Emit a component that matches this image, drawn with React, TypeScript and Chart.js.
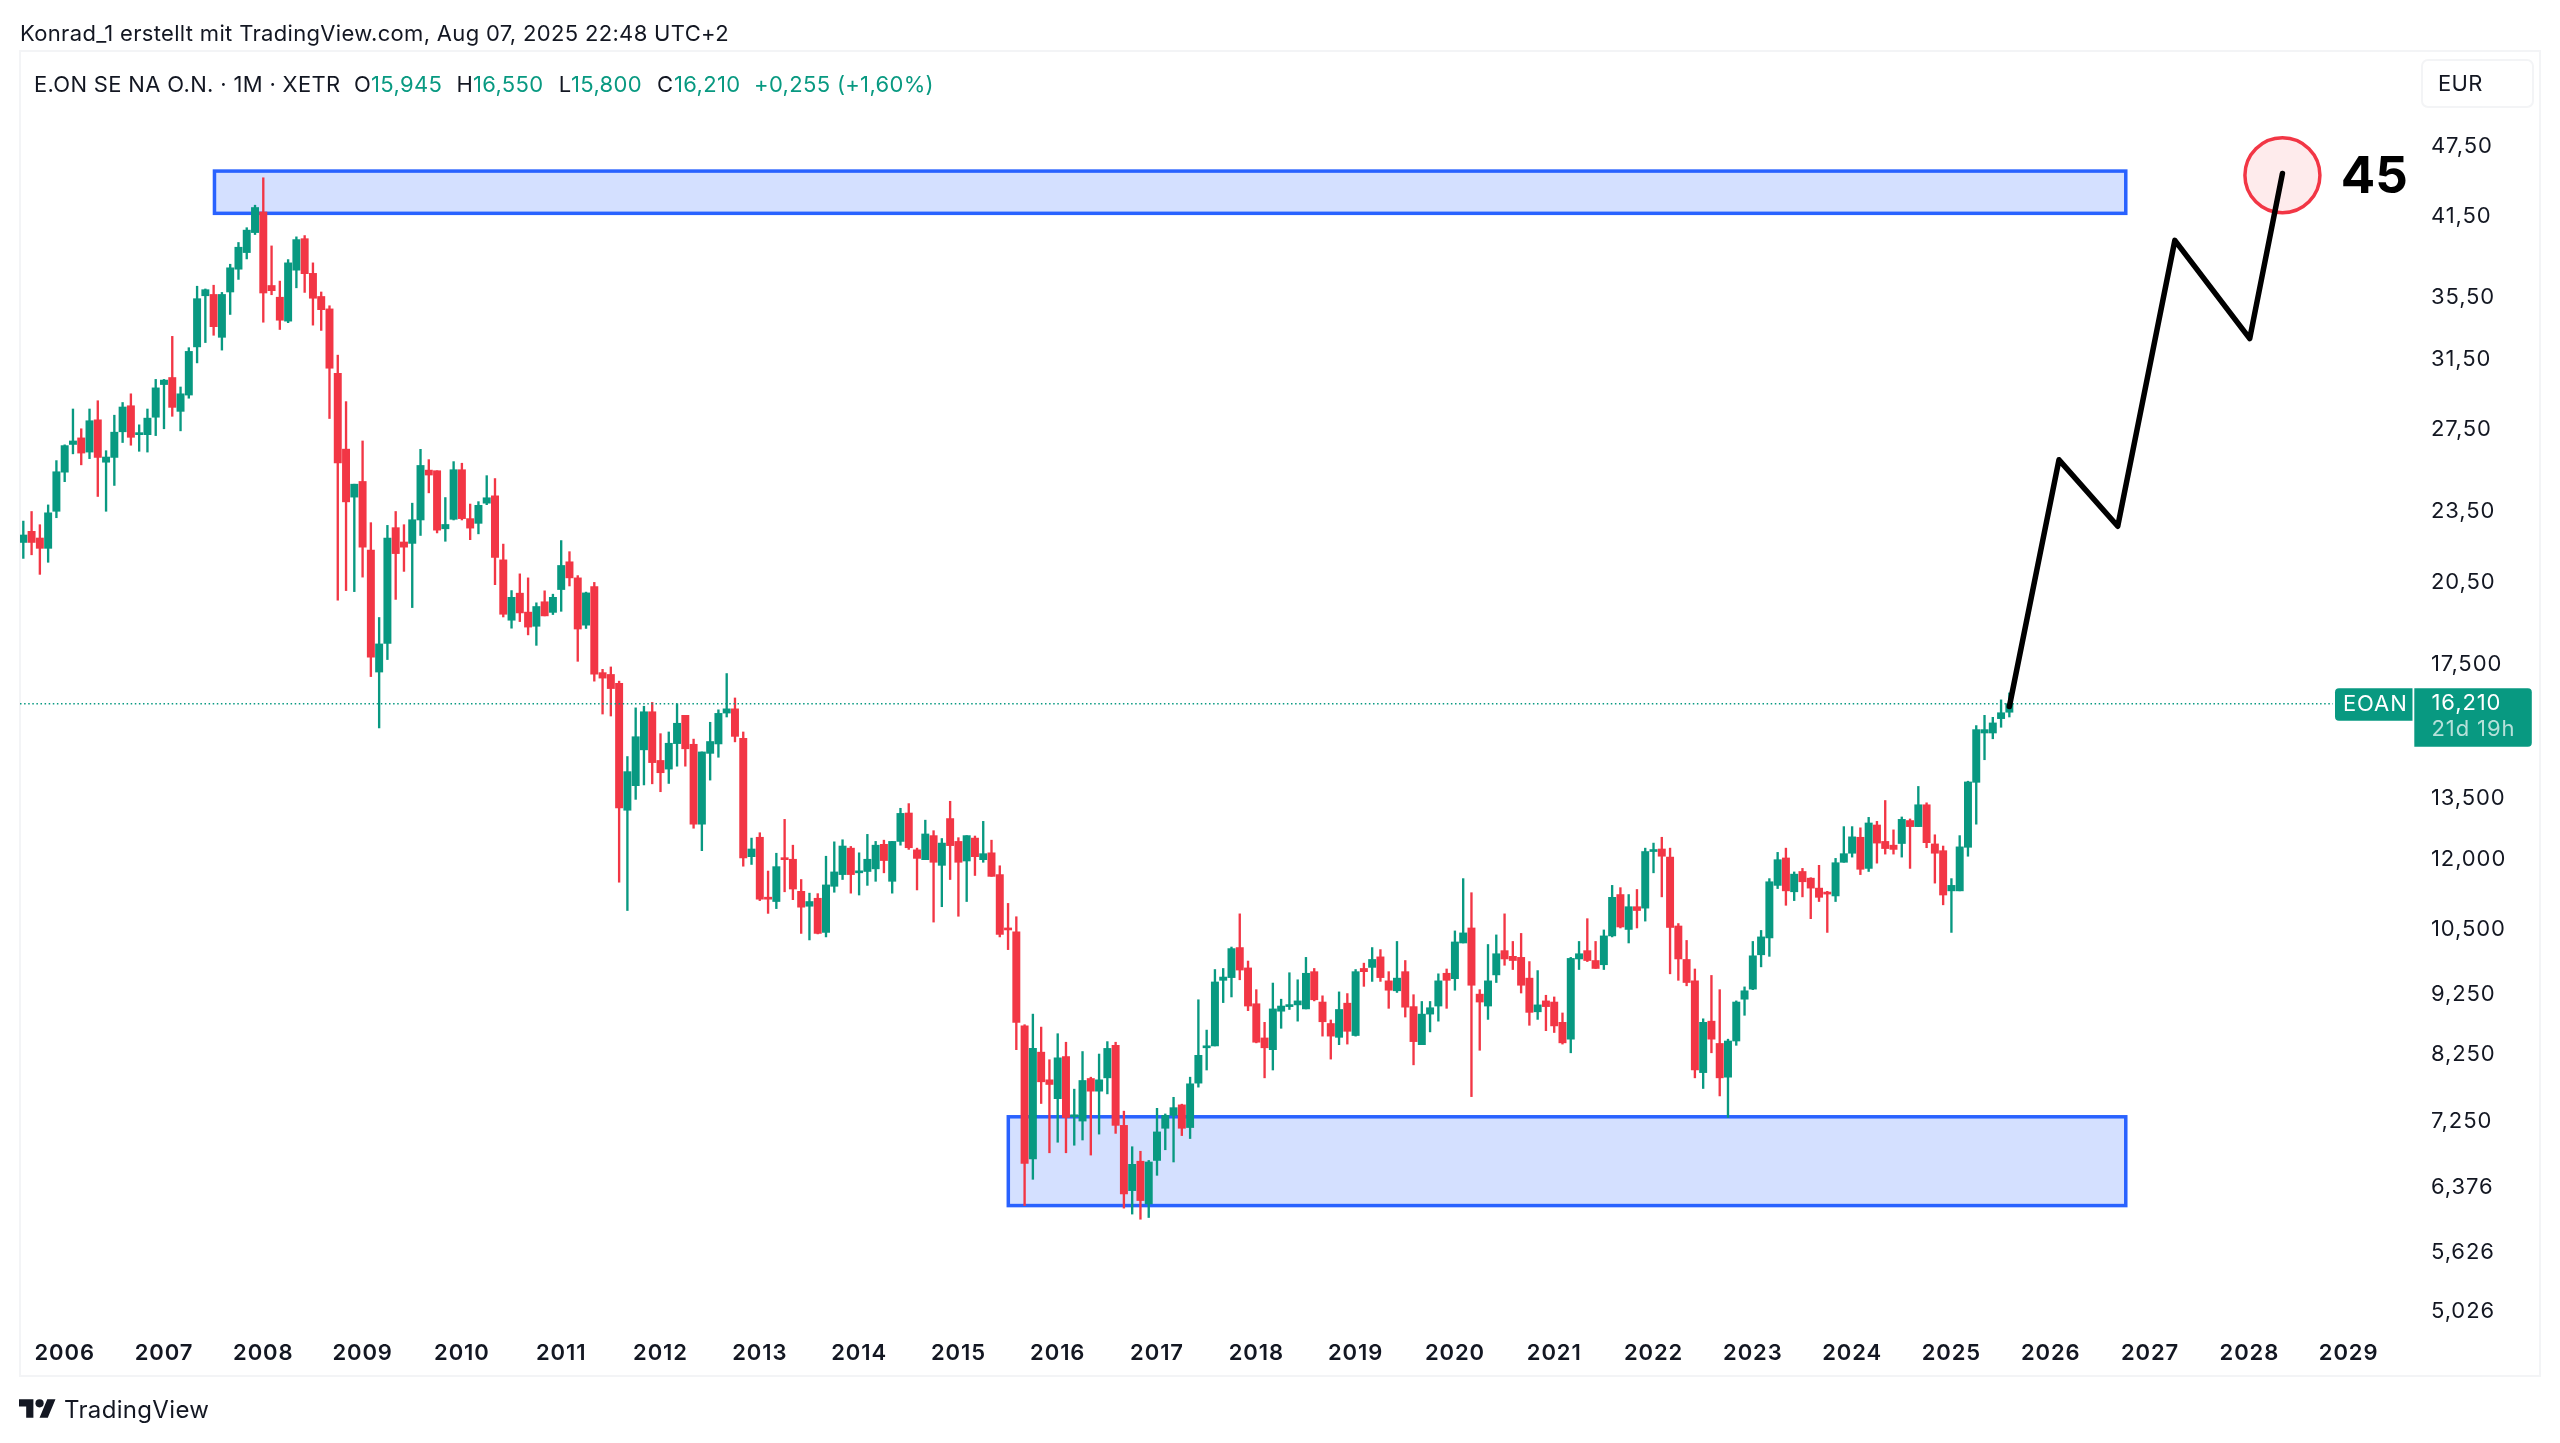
import { useEffect, useRef } from 'react';
import { Chart, registerables } from 'chart.js';

Chart.register(...registerables);

const GREEN = '#089981';
const RED = '#F23645';
const BLUE = '#2962FF';
const INK = '#131722';
const FONT = 'Inter, "Liberation Sans", sans-serif';

// Monthly candles, Aug 2005 to Aug 2025
const opens = [
  22.12, 22.60, 22.31, 21.87, 23.49, 25.33, 26.72, 27.06, 26.33, 28.02,
  25.82, 26.06, 27.38, 28.79, 27.23, 27.23, 28.16, 29.99, 30.40, 28.48,
  29.39, 32.25, 35.59, 35.68, 32.85, 35.85, 37.46, 38.68, 40.20, 41.83,
  36.30, 35.49, 33.89, 37.39, 39.73, 37.16, 35.54, 34.70, 30.64, 26.48,
  24.14, 24.88, 21.80, 17.23, 18.21, 22.76, 22.14, 22.08, 23.10, 25.43,
  25.40, 22.71, 23.13, 25.45, 23.16, 22.95, 23.86, 24.20, 21.39, 19.04,
  20.06, 19.34, 18.82, 19.73, 19.33, 20.20, 21.31, 20.66, 18.86, 20.32,
  17.21, 17.15, 16.86, 13.20, 13.84, 14.83, 15.96, 14.53, 14.29, 15.01,
  15.85, 14.99, 12.85, 14.73, 15.00, 15.92, 16.05, 15.16, 12.07, 12.53,
  11.16, 11.07, 12.03, 12.01, 11.29, 10.97, 11.14, 10.43, 11.40, 11.66,
  12.27, 11.70, 11.73, 11.79, 12.36, 11.51, 12.43, 13.13, 12.23, 12.00,
  12.57, 11.87, 12.99, 12.43, 11.97, 12.51, 12.00, 12.16, 11.66, 10.49,
  10.44, 8.71, 6.74, 8.28, 7.85, 7.57, 8.21, 7.31, 7.25, 7.87,
  7.68, 7.88, 8.39, 7.19, 6.34, 6.71, 6.18, 6.72, 7.15, 7.33,
  7.48, 7.16, 7.80, 8.35, 8.38, 9.51, 9.56, 10.13, 9.74, 9.09,
  8.51, 8.32, 8.96, 9.04, 9.07, 9.00, 9.67, 9.12, 8.75, 8.52,
  9.10, 8.55, 9.73, 9.75, 9.95, 9.50, 9.32, 9.67, 9.04, 8.40,
  8.91, 9.05, 9.64, 9.54, 10.22, 10.52, 9.26, 9.05, 9.61, 10.07,
  9.96, 9.94, 9.55, 8.95, 9.14, 9.12, 8.77, 8.49, 9.91, 10.07,
  9.88, 9.80, 10.36, 11.22, 10.49, 10.96, 10.93, 12.19, 12.25, 12.06,
  10.56, 9.90, 9.50, 7.96, 8.79, 8.42, 7.89, 8.46, 9.17, 9.35,
  9.99, 10.32, 11.42, 12.04, 11.28, 11.73, 11.58, 11.36, 11.27, 11.19,
  11.94, 12.15, 12.53, 11.80, 12.83, 12.43, 12.34, 12.38, 12.94, 12.79,
  13.34, 12.37, 12.21, 11.30, 11.30, 12.29, 13.93, 15.32, 15.32, 15.75,
  15.945,
];

const highs = [
  23.05, 23.48, 22.89, 23.78, 25.90, 26.70, 28.61, 27.54, 28.61, 29.07,
  26.40, 28.27, 28.97, 29.46, 27.75, 28.61, 30.29, 30.29, 32.91, 29.85,
  32.20, 36.25, 36.06, 36.32, 35.82, 37.82, 39.44, 40.58, 42.38, 44.68,
  39.18, 36.61, 38.16, 39.87, 39.97, 37.92, 35.85, 34.91, 31.74, 29.02,
  24.75, 26.90, 22.98, 19.14, 22.86, 23.48, 22.89, 23.86, 26.47, 25.95,
  25.40, 24.12, 25.85, 25.77, 23.82, 23.93, 25.16, 25.02, 22.05, 20.16,
  20.82, 20.66, 19.69, 20.15, 20.02, 22.20, 21.73, 20.75, 20.10, 20.48,
  17.32, 17.40, 16.93, 14.64, 16.08, 16.13, 16.25, 15.30, 15.35, 16.21,
  15.85, 15.14, 14.77, 15.64, 16.02, 17.18, 16.39, 15.35, 12.51, 12.64,
  11.74, 12.15, 12.97, 12.34, 11.55, 11.25, 11.24, 12.08, 12.42, 12.47,
  12.31, 12.16, 12.60, 12.43, 12.46, 12.43, 13.25, 13.37, 12.27, 12.95,
  12.69, 12.50, 13.43, 12.52, 12.57, 12.56, 12.92, 12.46, 11.86, 11.03,
  10.75, 8.73, 8.91, 8.69, 8.16, 8.58, 8.44, 7.71, 8.29, 7.89,
  8.25, 8.45, 8.44, 7.39, 6.90, 6.84, 6.72, 7.43, 7.35, 7.59,
  7.49, 7.89, 9.16, 8.64, 9.71, 9.73, 10.14, 10.81, 9.87, 9.34,
  8.77, 9.46, 9.17, 9.65, 9.52, 9.94, 9.73, 9.23, 8.81, 9.30,
  9.27, 9.71, 9.83, 10.13, 10.09, 9.67, 10.25, 9.88, 9.25, 9.13,
  9.13, 9.63, 9.72, 10.46, 11.57, 11.26, 9.34, 10.19, 10.38, 10.81,
  10.25, 10.41, 9.86, 9.69, 9.24, 9.21, 8.93, 9.94, 10.25, 10.71,
  10.25, 10.48, 11.42, 11.37, 11.22, 11.33, 12.27, 12.39, 12.53, 12.27,
  10.61, 10.27, 9.72, 8.83, 9.60, 9.34, 8.49, 9.14, 9.39, 10.25,
  10.47, 11.57, 12.17, 12.27, 11.72, 11.80, 11.59, 11.87, 11.29, 12.03,
  12.79, 12.79, 12.76, 13.02, 12.92, 13.45, 12.71, 13.03, 12.98, 13.82,
  13.39, 12.59, 12.32, 11.57, 12.57, 13.96, 15.54, 15.85, 15.79, 16.33,
  16.55,
];

const lows = [
  21.45, 21.60, 20.80, 21.29, 23.20, 24.87, 26.24, 25.69, 26.00, 24.17,
  23.49, 24.69, 26.82, 26.68, 26.37, 26.33, 27.18, 27.54, 28.21, 27.43,
  29.21, 31.27, 32.52, 32.98, 32.05, 34.33, 36.73, 38.21, 40.05, 33.82,
  35.66, 33.35, 33.79, 36.14, 35.82, 33.63, 33.29, 28.09, 19.79, 20.16,
  20.12, 20.69, 17.08, 15.47, 17.65, 19.82, 20.92, 19.51, 22.42, 24.34,
  22.53, 22.17, 23.10, 23.10, 22.24, 22.49, 23.79, 20.39, 19.16, 18.75,
  18.99, 18.51, 18.14, 19.20, 19.25, 19.37, 20.34, 17.59, 18.74, 16.93,
  15.89, 15.83, 11.49, 10.88, 13.48, 13.86, 13.89, 13.68, 13.90, 14.37,
  14.37, 12.75, 12.21, 13.99, 14.62, 15.80, 15.06, 11.85, 11.89, 11.09,
  10.82, 10.92, 11.28, 11.11, 10.41, 10.28, 10.40, 10.34, 11.27, 11.55,
  11.25, 11.21, 11.42, 11.51, 11.70, 11.25, 12.34, 12.24, 11.32, 12.00,
  10.64, 10.96, 11.55, 10.76, 11.07, 11.64, 11.94, 11.62, 10.34, 10.09,
  8.32, 6.16, 6.48, 7.50, 6.82, 6.96, 6.82, 6.92, 6.99, 6.79,
  7.07, 7.64, 7.08, 6.13, 6.06, 6.00, 6.02, 6.53, 6.86, 6.70,
  7.05, 7.01, 7.74, 8.00, 8.38, 9.11, 9.21, 9.52, 8.97, 8.43,
  7.88, 8.00, 8.67, 8.99, 8.79, 9.00, 9.14, 8.54, 8.17, 8.40,
  8.41, 8.54, 9.40, 9.49, 9.49, 9.01, 9.29, 8.86, 8.08, 8.40,
  8.61, 8.79, 9.01, 9.33, 10.22, 7.60, 8.31, 8.82, 9.47, 9.79,
  9.71, 9.28, 8.72, 8.82, 8.63, 8.60, 8.41, 8.27, 9.71, 9.86,
  9.73, 9.71, 10.34, 10.52, 10.22, 10.52, 10.66, 11.70, 11.17, 9.63,
  9.51, 9.41, 7.88, 7.72, 8.27, 7.61, 7.30, 8.39, 8.89, 9.34,
  9.76, 9.96, 11.35, 10.99, 11.09, 11.17, 10.71, 11.07, 10.43, 11.07,
  11.94, 12.06, 11.66, 11.73, 11.92, 12.13, 12.13, 12.06, 11.80, 12.79,
  12.28, 11.47, 11.00, 10.43, 11.30, 12.08, 12.85, 14.55, 15.15, 15.49,
  15.80,
];

const closes = [
  22.44, 22.12, 21.87, 23.42, 25.35, 26.66, 26.90, 26.28, 27.97, 26.06,
  26.08, 27.36, 28.72, 27.09, 27.32, 28.11, 29.80, 30.25, 28.70, 29.46,
  31.97, 35.39, 36.01, 33.53, 35.68, 37.56, 39.08, 40.39, 42.19, 35.78,
  35.94, 33.95, 37.92, 39.66, 37.14, 35.42, 34.65, 30.95, 25.79, 23.92,
  24.75, 21.92, 17.73, 18.19, 22.31, 21.65, 21.92, 23.11, 25.66, 25.19,
  22.65, 22.90, 25.45, 23.16, 22.74, 23.76, 24.11, 21.49, 19.26, 19.90,
  19.31, 18.79, 19.55, 19.20, 19.90, 21.16, 20.66, 18.72, 20.07, 17.16,
  17.03, 16.69, 13.26, 14.22, 15.21, 15.96, 14.47, 14.19, 15.02, 15.61,
  14.86, 12.85, 14.77, 15.07, 15.91, 16.05, 15.22, 12.04, 12.25, 11.12,
  11.12, 11.84, 12.00, 11.34, 10.95, 11.07, 10.41, 11.43, 11.72, 12.32,
  11.66, 11.74, 12.01, 12.34, 11.98, 12.43, 13.12, 12.28, 12.03, 12.61,
  11.94, 12.39, 12.33, 11.94, 12.57, 12.07, 12.14, 11.62, 10.39, 10.48,
  8.77, 6.68, 8.34, 7.82, 7.78, 8.19, 7.30, 7.33, 7.84, 7.68,
  7.85, 8.34, 7.19, 6.30, 6.67, 6.22, 6.70, 7.10, 7.33, 7.44,
  7.15, 7.79, 8.23, 8.38, 9.48, 9.57, 10.11, 9.70, 9.05, 8.44,
  8.35, 9.00, 9.05, 9.07, 9.14, 9.64, 9.16, 8.78, 8.54, 8.99,
  8.62, 9.67, 9.67, 9.90, 9.56, 9.33, 9.55, 9.03, 8.45, 8.91,
  9.02, 9.50, 9.51, 10.24, 10.42, 9.42, 9.12, 9.50, 10.01, 9.91,
  9.88, 9.42, 8.94, 9.07, 9.04, 8.71, 8.43, 9.92, 10.01, 9.88,
  9.73, 10.36, 11.16, 10.54, 10.96, 10.88, 12.19, 12.23, 12.08, 10.53,
  9.91, 9.47, 8.00, 8.77, 8.49, 7.88, 8.46, 9.12, 9.32, 9.97,
  10.34, 11.50, 12.00, 11.30, 11.67, 11.50, 11.36, 11.16, 11.23, 11.93,
  12.14, 12.54, 11.78, 12.88, 12.39, 12.26, 12.24, 12.97, 12.79, 13.34,
  12.40, 12.15, 11.21, 11.42, 12.30, 13.94, 15.42, 15.42, 15.62, 15.93,
  16.21,
];

// Axis ticks
const yearLabels = [
  '2006', '2007', '2008', '2009', '2010', '2011', '2012', '2013', '2014', '2015', '2016', '2017',
  '2018', '2019', '2020', '2021', '2022', '2023', '2024', '2025', '2026', '2027', '2028', '2029',
];
const yearMonths = yearLabels.map((_, i) => 5 + i * 12);
const priceTicks = [47.5, 41.5, 35.5, 31.5, 27.5, 23.5, 20.5, 17.5, 13.5, 12, 10.5, 9.25, 8.25, 7.25, 6.376, 5.626, 5.026];
const priceLabels = [
  '47,50', '41,50', '35,50', '31,50', '27,50', '23,50', '20,50', '17,500', '13,500',
  '12,000', '10,500', '9,250', '8,250', '7,250', '6,376', '5,626', '5,026',
];

// Drawings on the chart, in month index and price
const zoneStarts = [23.1, 119.03];
const zoneEnds = [254.07, 254.07];
const zoneTops = [45.26, 7.31];
const zoneBottoms = [41.72, 6.16];
const pathMonths = [240, 246, 253.1, 260, 269.05, 273];
const pathPrices = [16.12, 25.94, 22.82, 39.6, 32.77, 45.05];
const targetMonth = 273;
const targetPrice = 44.9;
const targetLabel = '45';
const targetLabelMonth = 284.1;
const targetLabelPrice = 44.66;
const lastPrice = 16.21;
const priceLineEnd = 279.1;

const drawingsPlugin = {
  id: 'drawings',
  beforeDraw(chart: Chart) {
    // axis and tag text in the reference is a little wider than Inter
    (chart.ctx as any).letterSpacing = '0.9px';
  },
  beforeDatasetsDraw(chart: Chart) {
    const { ctx, scales } = chart;
    ctx.save();
    ctx.fillStyle = 'rgba(41, 98, 255, 0.2)';
    ctx.strokeStyle = BLUE;
    ctx.lineWidth = 3.5;
    zoneStarts.forEach((start, i) => {
      const left = scales.x.getPixelForValue(start);
      const right = scales.x.getPixelForValue(zoneEnds[i]);
      const top = scales.y.getPixelForValue(zoneTops[i]);
      const bottom = scales.y.getPixelForValue(zoneBottoms[i]);
      ctx.fillRect(left, top, right - left, bottom - top);
      ctx.strokeRect(left, top, right - left, bottom - top);
    });
    ctx.restore();
  },
  afterDraw(chart: Chart) {
    const { ctx, scales } = chart;
    const py = scales.y.getPixelForValue(lastPrice);
    ctx.save();

    (ctx as any).letterSpacing = '0px';
    ctx.fillStyle = '#000';
    ctx.font = `700 51px ${FONT}`;
    ctx.textAlign = 'center';
    ctx.textBaseline = 'middle';
    ctx.fillText(targetLabel, scales.x.getPixelForValue(targetLabelMonth), scales.y.getPixelForValue(targetLabelPrice));

    // last price tags
    ctx.fillStyle = GREEN;
    ctx.beginPath();
    ctx.roundRect(2335, py - 15.5, 77.5, 32.5, [4, 0, 0, 4]);
    ctx.fill();
    ctx.beginPath();
    ctx.roundRect(2414.3, py - 15.5, 117.5, 58.5, [0, 4, 4, 0]);
    ctx.fill();

    (ctx as any).letterSpacing = '0.9px';
    ctx.font = `400 22px ${FONT}`;
    ctx.textAlign = 'left';
    ctx.fillStyle = '#fff';
    ctx.fillText('EOAN', 2343, py + 1);
    ctx.fillText('16,210', 2431.5, py);
    ctx.fillStyle = 'rgba(255, 255, 255, 0.7)';
    ctx.fillText('21d 19h', 2431.5, py + 26);
    ctx.restore();
  },
};

function Text({ x, y, size = 22, color = INK, weight = 400, children }: any) {
  return (
    <span
      style={{
        position: 'absolute',
        left: x,
        top: y - size / 2,
        fontFamily: FONT,
        fontSize: size,
        lineHeight: `${size}px`,
        fontWeight: weight,
        letterSpacing: 0.33,
        color,
        whiteSpace: 'pre',
      }}
    >
      {children}
    </span>
  );
}

export default function App() {
  const canvasRef = useRef<HTMLCanvasElement>(null);

  useEffect(() => {
    if (!canvasRef.current) return;

    const colors = opens.map((open, i) => (closes[i] >= open ? GREEN : RED));

    const chart = new Chart(canvasRef.current, {
      type: 'bar',
      data: {
        datasets: [
          {
            data: lows.map((low, i) => ({ x: i, y: [low, highs[i]] })),
            backgroundColor: colors,
            barThickness: 1.7,
            grouped: false,
            order: 5,
          },
          {
            data: opens.map((open, i) => ({ x: i, y: [open, closes[i]] })),
            backgroundColor: colors,
            barThickness: 7.3,
            minBarLength: 2,
            grouped: false,
            order: 4,
          },
          {
            type: 'line',
            data: [
              { x: -0.4, y: lastPrice },
              { x: priceLineEnd, y: lastPrice },
            ],
            borderColor: GREEN,
            borderWidth: 1.5,
            borderDash: [1.5, 2.6],
            pointRadius: 0,
            order: 3,
          },
          {
            type: 'line',
            data: [{ x: targetMonth, y: targetPrice }],
            pointRadius: 37.5,
            pointBorderWidth: 3.5,
            pointBackgroundColor: 'rgba(242, 54, 69, 0.1)',
            pointBorderColor: RED,
            order: 2,
          },
          {
            type: 'line',
            data: pathMonths.map((month, i) => ({ x: month, y: pathPrices[i] })),
            borderColor: '#000',
            borderWidth: 5.5,
            borderJoinStyle: 'round',
            borderCapStyle: 'round',
            pointRadius: 0,
            tension: 0,
            order: 1,
          },
        ],
      },
      options: {
        responsive: false,
        animation: false,
        devicePixelRatio: 1,
        // the big target point would otherwise push the chart area in
        layout: { autoPadding: false, padding: { left: 20, right: 20, top: 52, bottom: 68 } },
        plugins: { legend: { display: false }, tooltip: { enabled: false } },
        scales: {
          x: {
            type: 'linear',
            offset: false,
            min: -0.4,
            max: 288.9,
            border: { display: false },
            grid: { display: false, offset: false },
            afterBuildTicks: (scale) => {
              scale.ticks = yearMonths.map((value) => ({ value }));
            },
            afterFit: (scale) => {
              scale.height = 47;
              scale.paddingLeft = 0;
              scale.paddingRight = 0;
            },
            ticks: {
              autoSkip: false,
              maxRotation: 0,
              padding: 4,
              color: INK,
              font: { family: FONT, size: 22, weight: 600 },
              callback: (_value, index) => yearLabels[index],
            },
          },
          y: {
            type: 'logarithmic',
            position: 'right',
            bounds: 'data',
            min: 4.865,
            max: 56.94,
            border: { display: false },
            grid: { display: false, drawTicks: false },
            afterBuildTicks: (scale) => {
              scale.ticks = priceTicks.map((value) => ({ value }));
            },
            afterFit: (scale) => {
              scale.width = 126;
            },
            ticks: {
              autoSkip: false,
              padding: 17,
              color: INK,
              font: { family: FONT, size: 22 },
              callback: (_value, index) => priceLabels[index],
            },
          },
        },
      },
      plugins: [drawingsPlugin],
    });

    return () => {
      chart.destroy();
    };
  }, []);

  return (
    <div style={{ position: 'relative', width: 2560, height: 1443, background: '#fff', overflow: 'hidden' }}>
      <style>{'body { margin: 0; background: #fff; }'}</style>
      <div
        style={{
          position: 'absolute',
          left: 19,
          top: 50,
          width: 2518,
          height: 1323,
          border: '2px solid #f3f4f6',
        }}
      />
      <div
        style={{
          position: 'absolute',
          left: 2421,
          top: 59,
          width: 109,
          height: 45,
          border: '2px solid #f3f4f6',
          borderRadius: 7,
        }}
      />
      <canvas ref={canvasRef} width={2560} height={1443} style={{ position: 'absolute', left: 0, top: 0 }} />

      <Text x={20} y={33}>Konrad_1 erstellt mit TradingView.com, Aug 07, 2025 22:48 UTC+2</Text>
      <Text x={34} y={84}>E.ON SE NA O.N. · 1M · XETR</Text>
      <Text x={354} y={84}>O</Text>
      <Text x={371} y={84} color={GREEN}>15,945</Text>
      <Text x={456.6} y={84}>H</Text>
      <Text x={473} y={84} color={GREEN}>16,550</Text>
      <Text x={558.7} y={84}>L</Text>
      <Text x={571} y={84} color={GREEN}>15,800</Text>
      <Text x={657} y={84}>C</Text>
      <Text x={674} y={84} color={GREEN}>16,210</Text>
      <Text x={754} y={84} color={GREEN}>+0,255 (+1,60%)</Text>
      <Text x={2438} y={83}>EUR</Text>

      <svg
        viewBox="0 0 36 28"
        width={37}
        height={29}
        style={{ position: 'absolute', left: 19, top: 1395 }}
      >
        <path d="M14 22H7V11H0V4h14v18zM28 22h-8l7.5-18h8L28 22z" fill={INK} />
        <circle cx="20" cy="8" r="4" fill={INK} />
      </svg>
      <Text x={64} y={1410} size={24}>TradingView</Text>
    </div>
  );
}
